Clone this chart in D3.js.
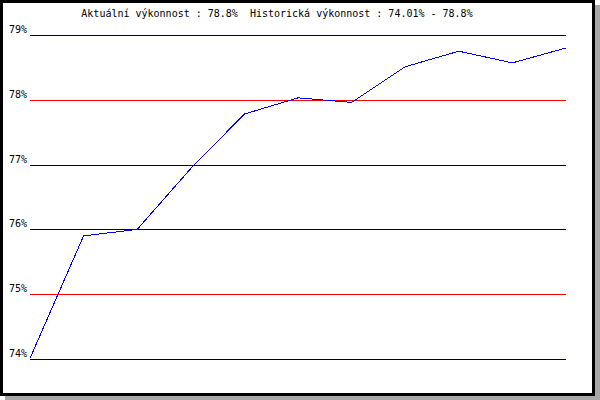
<!DOCTYPE html>
<html>
<head>
<meta charset="utf-8">
<script src="https://cdn.jsdelivr.net/npm/d3@7"></script>
<style>
  html, body { margin: 0; padding: 0; background: #fff; }
  svg { display: block; }
</style>
</head>
<body>
<svg id="chart" width="600" height="400"></svg>
<script>
const titleText = "Aktuální výkonnost : 78.8%  Historická výkonnost : 74.01% - 78.8%";
const points = [0, 1, 2, 3, 4, 5, 6, 7, 8, 9, 10];
const values = [74.01, 75.90, 76.00, 76.94, 77.78, 78.03, 77.96, 78.51, 78.75, 78.57, 78.80];
const tickValues = [74, 75, 76, 77, 78, 79];
const tickLabels = ["74%", "75%", "76%", "77%", "78%", "79%"];
const redTicks = [75, 78];

const svg = d3.select("#chart");

// shadow and frame
svg.append("rect").attr("x", 5).attr("y", 5).attr("width", 595).attr("height", 395).attr("fill", "#a8a8a8");
svg.append("rect").attr("x", 1.5).attr("y", 1.5).attr("width", 592).attr("height", 393)
  .attr("fill", "#fff").attr("stroke", "#000").attr("stroke-width", 3);

const x = d3.scaleLinear().domain([0, 10]).range([30, 566]);
const y = d3.scaleLinear().domain([74, 79]).range([359, 35]);

const font = "'DejaVu Sans Mono', monospace";

// grid lines
const g = svg.append("g");
g.selectAll("line.grid").data(tickValues).join("line")
  .attr("class", "grid")
  .attr("x1", x(0)).attr("x2", x(10))
  .attr("y1", d => Math.round(y(d)) + 0.5).attr("y2", d => Math.round(y(d)) + 0.5)
  .attr("stroke", d => redTicks.includes(d) ? "#ff0000" : "#000033")
  .attr("stroke-width", 1)
  .attr("shape-rendering", "crispEdges");

// labels
g.selectAll("text.tick").data(tickValues).join("text")
  .attr("class", "tick")
  .attr("x", 27).attr("y", d => Math.round(y(d)) - 2)
  .attr("text-anchor", "end")
  .attr("font-family", font).attr("font-size", 10).attr("fill", "#000")
  .text((d, i) => tickLabels[i]);

// line
const line = d3.line().x((d, i) => x(points[i])).y(d => y(d));
svg.append("path").datum(values)
  .attr("d", line)
  .attr("fill", "none").attr("stroke", "#0000ee").attr("stroke-width", 1)
  .attr("shape-rendering", "crispEdges");

// title
svg.append("text").attr("x", 277).attr("y", 17)
  .attr("text-anchor", "middle")
  .attr("font-family", font).attr("font-size", 10).attr("fill", "#000")
  .attr("xml:space", "preserve")
  .style("white-space", "pre")
  .text(titleText);
</script>
</body>
</html>
